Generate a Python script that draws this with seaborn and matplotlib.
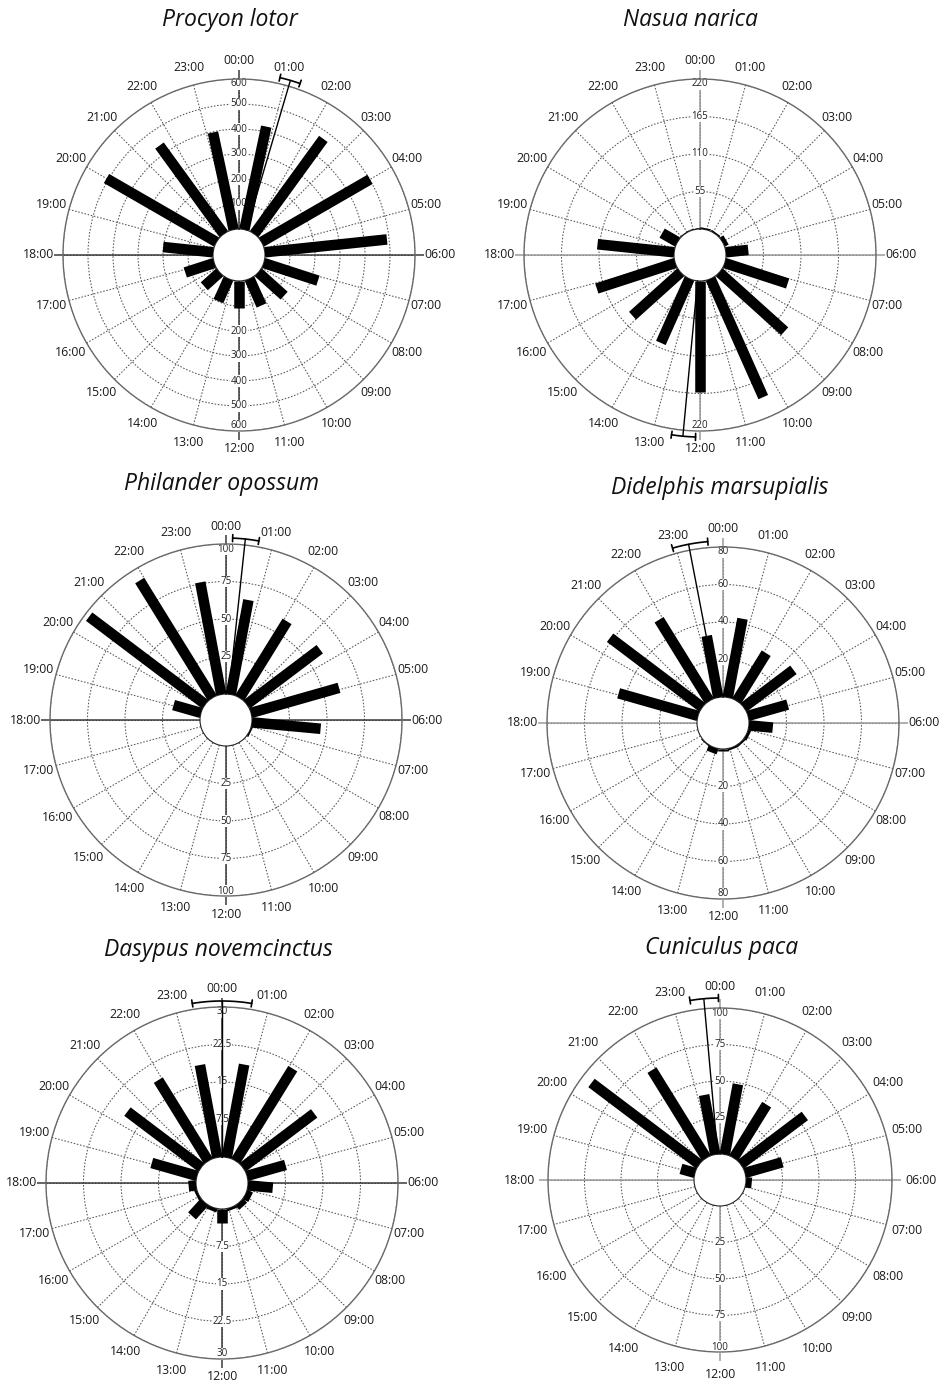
import numpy as np
import matplotlib
matplotlib.use("Agg")
import matplotlib.pyplot as plt
import seaborn as sns

sns.set_theme(style="white")
plt.rcParams['font.family'] = ['Open Sans', 'DejaVu Sans']

# ---------------- data ----------------
hour_labels = ["00:00", "01:00", "02:00", "03:00", "04:00", "05:00", "06:00", "07:00",
               "08:00", "09:00", "10:00", "11:00", "12:00", "13:00", "14:00", "15:00",
               "16:00", "17:00", "18:00", "19:00", "20:00", "21:00", "22:00", "23:00"]

titles = ["Procyon lotor", "Nasua narica", "Philander opossum",
          "Didelphis marsupialis", "Dasypus novemcinctus", "Cuniculus paca"]

# counts per angular bin, bins start at 00:00 and go clockwise
procyon_counts = [421, 470, 501, 491, 228, 139, 117, 109, 98, 83, 122, 201, 508, 437, 397]
nasua_counts = [2, 2, 6, 33, 97, 129, 190, 163, 103, 95, 121, 113, 26, 1, 1]
philander_counts = [64, 60, 61, 61, 46, 1, 0, 0, 0, 0, 0, 0, 0, 19, 97, 92, 76]
didelphis_counts = [42.7, 29.9, 33.2, 22, 12.8, 1.5, 1, 1, 1, 3, 0.5, 0, 0, 44, 61.6, 50.9, 33.4]
dasypus_counts = [18.9, 21.7, 17.9, 8.0, 5.0, 1.2, 1.1, 0.5, 2.8, 0.7, 3.7, 0.5, 1.5, 9.4, 18.5, 19.0, 18.8]
cuniculus_counts = [48.9, 42.9, 55, 26.5, 4, 0, 0, 0, 0, 0, 0, 0, 0, 10, 92.5, 70.7, 41.4]

procyon_rticks = [100, 200, 300, 400, 500, 600]
nasua_rticks = [55, 110, 165, 220]
philander_rticks = [25, 50, 75, 100]
didelphis_rticks = [20, 40, 60, 80]
dasypus_rticks = [7.5, 15, 22.5, 30]
cuniculus_rticks = [25, 50, 75, 100]

# mean vector angle and 95% CI (degrees, clockwise from 00:00)
mean_angles = [16.4, 185.4, 6.1, 349.1, 0.0, 354.9]
ci_low = [13.0, 181.4, 2.1, 343.9, -9.4, 350.5]
ci_high = [19.6, 189.0, 10.4, 355.2, 9.4, 359.5]

# ---------------- layout ----------------
W, H = 944, 1384
fig = plt.figure(figsize=(W / 100, H / 100), dpi=100)
fig.patch.set_facecolor("white")

HOLE = 26.0   # px radius of the central hole (value 0)
panels = [
    # cx, cy, R, title x, title y, axis colour
    (239, 255, 176, 230, 20, "#3a3a3a"),
    (700, 255, 176, 690, 20, "#9a9a9a"),
    (226, 720, 176, 222, 484, "#3a3a3a"),
    (723, 723, 176, 720, 488, "#9a9a9a"),
    (222, 1183, 176, 218, 950, "#3a3a3a"),
    (720, 1180, 172, 722, 948, "#9a9a9a"),
]
all_counts = [procyon_counts, nasua_counts, philander_counts,
              didelphis_counts, dasypus_counts, cuniculus_counts]
all_rticks = [procyon_rticks, nasua_rticks, philander_rticks,
              didelphis_rticks, dasypus_rticks, cuniculus_rticks]

grid_color = "#555555"
dot = (0, (1.5, 1.6))

for i, (cx, cy, R, tx, ty, axcol) in enumerate(panels):
    counts = np.asarray(all_counts[i], dtype=float)
    rticks = all_rticks[i]
    rmax = rticks[-1]
    n = len(counts)
    bin_w = 360.0 / n
    centers_deg = (np.arange(n) + 0.5) * bin_w
    theta = np.deg2rad(centers_deg)

    rect = [(cx - R) / W, 1 - (cy + R) / H, 2 * R / W, 2 * R / H]
    ax = fig.add_axes(rect, projection="polar")
    ax.set_theta_zero_location("N")
    ax.set_theta_direction(-1)
    ax.set_ylim(0, rmax)
    ax.set_rorigin(-rmax * HOLE / (R - HOLE))
    ax.set_facecolor("white")

    px = rmax / (R - HOLE)  # data units per pixel

    # grids
    hour_theta = np.deg2rad(np.arange(24) * 15.0)
    ax.set_xticks(hour_theta)
    ax.set_xticklabels([])
    ax.set_yticks(rticks)
    ax.set_yticklabels([])
    ax.tick_params(length=0)
    ax.set_axisbelow(True)
    ax.xaxis.grid(True, color=grid_color, lw=0.75, ls=dot)
    ax.yaxis.grid(True, color=grid_color, lw=0.75, ls=dot)
    ax.spines["polar"].set_color("#6a6a6a")
    ax.spines["polar"].set_linewidth(1.0)
    ax.spines["inner"].set_color("#222222")
    ax.spines["inner"].set_linewidth(0.8)
    for s in ("start", "end"):
        if s in ax.spines:
            ax.spines[s].set_visible(False)

    # solid main axes (00-12, 06-18)
    for q in range(4):
        tq = np.deg2rad(90.0 * q)
        ax.plot([tq, tq], [0, rmax + 9 * px], color=axcol, lw=1.1,
                clip_on=False, zorder=1.5, solid_capstyle="butt")

    # radial value labels, top and bottom (hidden where a bar covers them)
    for v in rticks:
        rv = v - 5 * px if v == rmax else v
        for tdeg in (0.0, 180.0):
            under = np.isclose(centers_deg % 360, tdeg, atol=0.5)
            if np.any(counts[under] >= v - 6 * px):
                continue
            ax.text(np.deg2rad(tdeg), rv, f"{v:g}", ha="center", va="center",
                    fontsize=7, color="#222222", zorder=2,
                    bbox=dict(boxstyle="square,pad=0.05", fc="white", ec="none"))

    # bars
    ax.vlines(theta, 0, counts, colors="black", lw=7.6, capstyle="butt", zorder=3)

    # hour labels
    for h, lab in enumerate(hour_labels):
        rpx = 201 if h in (6, 18) else 194
        ax.text(np.deg2rad(15 * h), (rpx - HOLE) * px, lab, ha="center", va="center",
                fontsize=8.8, color="#1a1a1a", clip_on=False)

    # mean vector and CI bracket
    r_arc = (182 - HOLE) * px
    m = np.deg2rad(mean_angles[i])
    ax.plot([m, m], [0, r_arc], color="black", lw=1.0, clip_on=False, zorder=4)
    lo, hi = np.deg2rad(ci_low[i]), np.deg2rad(ci_high[i])
    tt = np.linspace(lo, hi, 40)
    ax.plot(tt, np.full_like(tt, r_arc), color="black", lw=1.2, clip_on=False, zorder=4)
    for e in (lo, hi):
        ax.plot([e, e], [r_arc - 3.5 * px, r_arc + 3.5 * px], color="black", lw=1.2,
                clip_on=False, zorder=4)

    fig.text(tx / W, 1 - ty / H, titles[i], ha="center", va="center",
             fontsize=16.5, style="italic", color="#111111")

fig.savefig("out.png", dpi=100, facecolor="white")
